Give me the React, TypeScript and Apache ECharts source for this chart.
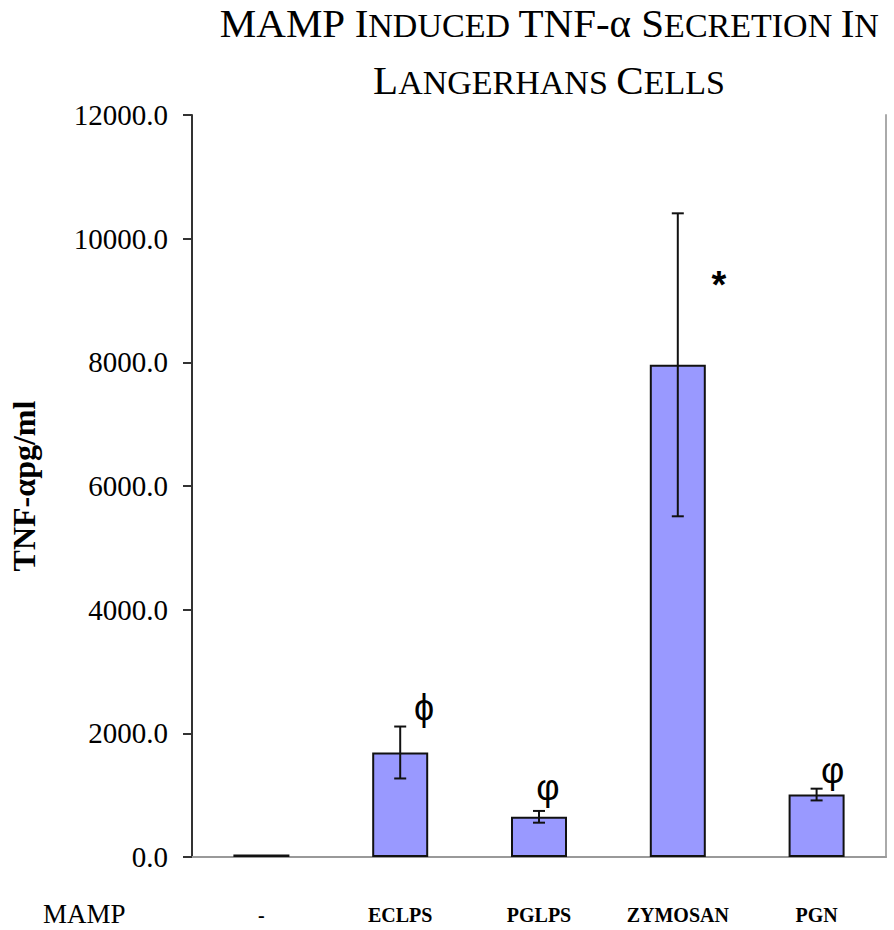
import React, { useEffect, useRef } from "react";
import * as echarts from "echarts";

// Stimulus categories along the x axis
const categories = ["-", "ECLPS", "PGLPS", "ZYMOSAN", "PGN"];
// Mean TNF-α concentration (pg/ml) per stimulus
const means = [40, 1690, 650, 7960, 1010];
// Error (± pg/ml) per stimulus
const errors = [0, 420, 95, 2450, 95];
// Y tick values
const yTicks = [0, 2000, 4000, 6000, 8000, 10000, 12000];
// Significance markers: category index, anchor value, glyph, horizontal nudge
const markCats = [1, 2, 3, 4];
const markValues = [2410, 1120, 9350, 1400];
const markGlyphs = ["ϕ", "φ", "*", "φ"];
const markNudge = [24, 9, 41, 16];

const SERIF = "'Liberation Serif', 'Times New Roman', serif";
const SANS = "'Liberation Sans', Arial, sans-serif";

// Small-caps title built from rich text fragments
const big = (s: string) => `{c|${s}}`;
const small = (s: string) => `{s|${s}}`;
const titleText =
  big("MAMP ") + big("I") + small("NDUCED ") + big("TNF-α ") + big("S") + small("ECRETION ") + big("I") + small("N") +
  "\n" +
  big("L") + small("ANGERHANS ") + big("C") + small("ELLS");

export default function App() {
  const ref = useRef<HTMLDivElement>(null);

  useEffect(() => {
    document.body.style.margin = "0";
    const chart = echarts.init(ref.current!, null, { renderer: "svg" });

    const errData = categories.map((_, i) => [i, means[i], errors[i]]);
    const markData = markCats.map((c, i) => [c, markValues[i], i]);

    chart.setOption({
      animation: false,
      backgroundColor: "#fff",
      title: {
        text: titleText,
        left: 544,
        top: -19,
        textAlign: "center",
        textStyle: {
          fontWeight: "normal",
          rich: {
            c: {
              fontFamily: SERIF, fontSize: 41, fontWeight: "normal", color: "#000",
              lineHeight: 57, verticalAlign: "bottom",
            },
            s: {
              fontFamily: SERIF, fontSize: 34, fontWeight: "normal", color: "#000",
              lineHeight: 57, verticalAlign: "bottom", padding: [0, 0, 1, 0],
            },
          },
        },
      },
      grid: { left: 192, right: 8, top: 115, bottom: 73, containLabel: false },
      xAxis: {
        type: "category",
        data: categories,
        axisLine: { lineStyle: { color: "#999", width: 2 } },
        axisTick: { show: false },
        axisLabel: {
          interval: 0,
          margin: 48,
          fontFamily: SERIF,
          fontSize: 20,
          fontWeight: "bold",
          color: "#000",
        },
      },
      yAxis: [
        {
          type: "value",
          min: 0,
          max: 12000,
          interval: 2000,
          name: "TNF-αpg/ml",
          nameLocation: "middle",
          nameRotate: 90,
          nameGap: 152,
          nameTextStyle: { fontFamily: SERIF, fontSize: 32, fontWeight: "bold", color: "#000" },
          axisLine: { show: true, lineStyle: { color: "#333", width: 2 } },
          axisTick: { show: true, inside: false, length: 9, lineStyle: { color: "#333", width: 2 } },
          axisLabel: {
            margin: 24,
            fontFamily: SERIF,
            fontSize: 29,
            color: "#000",
            formatter: (v: number) => (yTicks.includes(v) ? v.toFixed(1) : ""),
          },
          splitLine: { show: false },
        },
        {
          type: "value",
          position: "right",
          min: 0,
          max: 12000,
          interval: 2000,
          axisLine: { show: true, lineStyle: { color: "#aaa", width: 2 } },
          axisTick: { show: false },
          axisLabel: { show: false },
          splitLine: { show: false },
        },
      ],
      series: [
        {
          type: "bar",
          data: means,
          barWidth: 56,
          itemStyle: { color: "#9999ff", borderColor: "#111", borderWidth: 2 },
          z: 2,
        },
        {
          type: "custom",
          data: errData,
          z: 3,
          renderItem: (params: any, api: any) => {
            const i = api.value(0);
            const m = api.value(1);
            const e = api.value(2);
            if (!e) return null;
            const top = api.coord([i, m + e]);
            const bot = api.coord([i, m - e]);
            const w = 6;
            const style = { stroke: "#111", lineWidth: 2 };
            return {
              type: "group",
              children: [
                { type: "line", shape: { x1: top[0], y1: top[1], x2: bot[0], y2: bot[1] }, style },
                { type: "line", shape: { x1: top[0] - w, y1: top[1], x2: top[0] + w, y2: top[1] }, style },
                { type: "line", shape: { x1: bot[0] - w, y1: bot[1], x2: bot[0] + w, y2: bot[1] }, style },
              ],
            };
          },
        },
        {
          type: "custom",
          data: markData,
          z: 4,
          renderItem: (params: any, api: any) => {
            const k = api.value(2);
            const p = api.coord([api.value(0), api.value(1)]);
            const glyph = markGlyphs[k];
            const isStar = glyph === "*";
            return {
              type: "text",
              x: p[0] + markNudge[k],
              y: p[1] + (isStar ? 6 : 0),
              style: {
                text: glyph,
                fill: "#000",
                font: isStar ? `bold 38px ${SANS}` : `36px ${SANS}`,
                align: "center",
                verticalAlign: "middle",
              },
            };
          },
        },
      ],
      graphic: [
        {
          type: "text",
          left: 43,
          top: 900,
          style: { text: "MAMP", fill: "#000", font: `27px ${SERIF}` },
        },
      ],
    });

    return () => chart.dispose();
  }, []);

  return <div ref={ref} style={{ width: 894, height: 930 }} />;
}
